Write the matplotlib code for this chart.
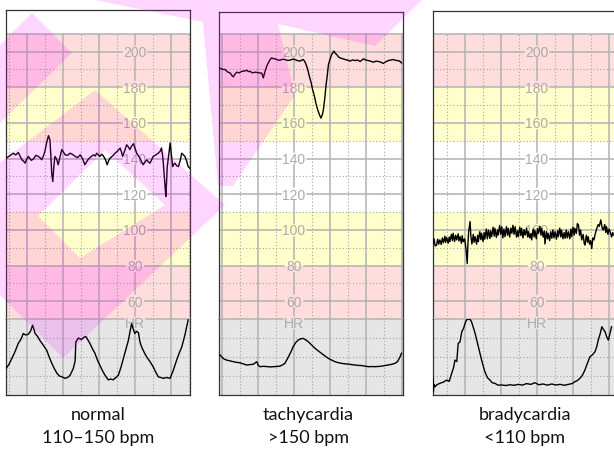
import matplotlib.pyplot as plt
from matplotlib.path import Path
from matplotlib.patches import PathPatch

# ---- data (time in minutes from each panel's left edge) ----
normal_fhr = [
    (0.00, 140.2), (0.10, 141.5), (0.20, 143.0), (0.27, 142.0), (0.34, 143.4), (0.40, 141.0),
    (0.44, 139.3), (0.49, 138.5), (0.53, 137.4), (0.58, 139.8), (0.62, 141.2), (0.70, 139.0),
    (0.76, 139.7), (0.83, 141.8), (0.90, 141.2), (0.95, 140.4), (0.99, 139.3), (1.04, 141.5),
    (1.08, 144.0), (1.13, 149.0), (1.18, 152.8), (1.22, 150.5), (1.25, 140.0), (1.27, 131.8),
    (1.30, 127.1), (1.33, 136.0), (1.36, 141.2), (1.41, 139.5), (1.45, 136.5), (1.50, 141.0),
    (1.55, 145.0), (1.60, 143.5), (1.64, 142.1), (1.71, 141.8), (1.78, 143.0), (1.85, 142.3),
    (1.92, 141.2), (1.99, 140.5), (2.06, 142.1), (2.13, 139.8), (2.19, 136.5), (2.24, 138.2),
    (2.29, 139.7), (2.36, 141.0), (2.43, 142.1), (2.48, 141.4), (2.52, 143.0), (2.57, 142.0),
    (2.61, 141.2), (2.66, 142.4), (2.70, 141.6), (2.76, 139.5), (2.81, 136.5), (2.85, 138.8),
    (2.89, 140.2), (2.96, 141.4), (3.03, 143.0), (3.10, 144.2), (3.17, 145.9), (3.21, 143.5),
    (3.24, 141.2), (3.30, 144.5), (3.35, 147.7), (3.40, 146.5), (3.44, 145.0), (3.49, 147.0),
    (3.54, 148.3), (3.58, 146.0), (3.63, 143.0), (3.68, 141.5), (3.72, 140.2), (3.77, 138.0),
    (3.81, 136.5), (3.86, 138.0), (3.91, 139.3), (3.95, 138.2), (4.00, 137.4), (4.05, 139.5),
    (4.09, 141.2), (4.16, 142.0), (4.23, 143.0), (4.28, 144.0), (4.32, 145.9), (4.36, 140.0),
    (4.39, 131.8), (4.42, 124.0), (4.44, 118.7), (4.46, 127.0), (4.48, 135.5), (4.52, 142.0),
    (4.56, 148.7), (4.60, 141.0), (4.63, 135.5), (4.66, 136.8), (4.69, 137.4), (4.74, 136.0),
    (4.79, 135.5), (4.84, 139.0), (4.88, 143.0), (4.93, 142.0), (4.97, 141.2), (5.02, 138.5),
    (5.06, 135.5), (5.11, 134.5),
]
normal_toco = [
    (0.00, 35), (0.08, 40), (0.16, 48), (0.25, 57), (0.34, 68), (0.41, 73), (0.48, 81),
    (0.55, 79), (0.62, 80), (0.68, 84), (0.74, 92), (0.81, 81), (0.88, 77), (0.94, 72),
    (1.03, 66), (1.13, 59), (1.20, 50), (1.27, 42), (1.34, 35), (1.41, 29), (1.48, 25),
    (1.55, 24), (1.64, 22), (1.71, 23), (1.78, 26), (1.87, 35), (1.92, 45), (1.94, 70),
    (2.01, 75), (2.10, 73), (2.16, 76), (2.22, 77), (2.33, 68), (2.40, 61), (2.47, 55),
    (2.54, 46), (2.61, 39), (2.68, 32), (2.75, 26), (2.84, 20), (2.91, 21), (2.98, 20),
    (3.05, 23), (3.12, 26), (3.19, 36), (3.26, 48), (3.33, 60), (3.40, 72), (3.45, 85),
    (3.49, 94), (3.54, 86), (3.58, 81), (3.63, 84), (3.68, 82), (3.72, 70), (3.77, 63),
    (3.84, 56), (3.91, 50), (4.00, 44), (4.09, 37), (4.16, 30), (4.23, 24), (4.30, 23),
    (4.37, 22), (4.46, 23), (4.56, 22), (4.65, 33), (4.74, 46), (4.81, 55), (4.88, 63),
    (4.97, 79), (5.06, 99),
]

tachy_fhr = [
    (0.00, 190.8), (0.10, 190.0), (0.17, 189.9), (0.24, 188.5), (0.31, 188.0), (0.36, 186.5),
    (0.40, 185.8), (0.45, 187.5), (0.49, 188.4), (0.56, 188.0), (0.63, 188.9), (0.70, 189.0),
    (0.77, 189.5), (0.82, 188.7), (0.86, 188.9), (0.93, 188.0), (1.00, 188.4), (1.07, 188.2),
    (1.14, 188.0), (1.19, 187.8), (1.23, 185.2), (1.28, 188.9), (1.33, 192.0), (1.37, 193.6),
    (1.42, 195.5), (1.46, 196.4), (1.51, 196.0), (1.56, 195.9), (1.62, 195.3), (1.69, 195.1),
    (1.76, 195.6), (1.83, 195.5), (1.90, 195.0), (1.97, 195.1), (2.04, 195.7), (2.11, 195.5),
    (2.18, 194.9), (2.25, 194.6), (2.30, 195.2), (2.34, 195.5), (2.38, 194.5), (2.42, 192.7),
    (2.47, 189.5), (2.51, 186.1), (2.56, 182.5), (2.60, 178.6), (2.65, 175.0), (2.69, 171.1),
    (2.74, 167.5), (2.79, 164.6), (2.83, 162.7), (2.87, 164.5), (2.90, 167.4), (2.94, 174.0),
    (2.97, 180.5), (3.01, 187.0), (3.04, 192.7), (3.09, 196.0), (3.13, 198.3), (3.19, 200.2),
    (3.23, 199.0), (3.27, 198.3), (3.32, 197.0), (3.36, 196.4), (3.43, 196.0), (3.50, 195.5),
    (3.57, 195.2), (3.64, 194.6), (3.71, 195.3), (3.78, 194.9), (3.85, 195.2), (3.92, 194.4),
    (3.96, 195.0), (4.01, 195.9), (4.08, 195.2), (4.15, 194.9), (4.22, 194.5), (4.29, 194.0),
    (4.36, 194.6), (4.43, 194.4), (4.50, 194.0), (4.56, 193.3), (4.63, 194.2), (4.70, 194.9),
    (4.77, 195.2), (4.84, 195.5), (4.91, 195.0), (4.98, 194.9), (5.03, 194.4), (5.07, 193.6),
]
tachy_toco = [
    (0.00, 53.0), (0.03, 52.6), (0.12, 48.0), (0.21, 46.0), (0.30, 45.0), (0.40, 43.9),
    (0.49, 43.0), (0.58, 42.5), (0.67, 41.0), (0.77, 39.5), (0.86, 40.0), (0.95, 40.5),
    (1.05, 43.9), (1.09, 39.0), (1.14, 37.3), (1.23, 37.8), (1.32, 37.5), (1.42, 37.0),
    (1.51, 37.3), (1.60, 37.6), (1.69, 38.0), (1.76, 39.5), (1.83, 41.7), (1.93, 50.4),
    (2.00, 57.0), (2.06, 63.6), (2.13, 69.0), (2.20, 72.4), (2.27, 74.0), (2.34, 74.6),
    (2.41, 72.5), (2.48, 70.2), (2.57, 66.0), (2.67, 61.4), (2.76, 58.0), (2.85, 54.8),
    (2.94, 51.5), (3.04, 48.2), (3.13, 46.0), (3.22, 43.9), (3.32, 42.5), (3.41, 41.7),
    (3.50, 41.0), (3.59, 40.8), (3.69, 40.0), (3.78, 39.5), (3.87, 39.0), (3.96, 38.8),
    (4.06, 38.0), (4.15, 37.3), (4.24, 37.5), (4.33, 37.3), (4.43, 37.6), (4.52, 38.0),
    (4.61, 38.8), (4.70, 39.5), (4.80, 40.5), (4.89, 41.7), (4.96, 44.0), (5.03, 50.4),
    (5.07, 55.0),
]

brady_fhr = [
    (0.00, 92.0), (0.03, 95.0), (0.06, 91.0), (0.10, 91.5), (0.13, 94.8), (0.16, 92.0),
    (0.19, 94.4), (0.23, 91.8), (0.26, 95.5), (0.29, 92.8), (0.33, 96.5), (0.35, 93.0),
    (0.38, 95.8), (0.42, 92.5), (0.45, 96.0), (0.47, 93.4), (0.51, 97.5), (0.54, 94.0),
    (0.56, 98.1), (0.60, 93.5), (0.63, 97.0), (0.66, 94.4), (0.70, 97.8), (0.72, 93.8),
    (0.75, 96.2), (0.79, 92.5), (0.81, 96.8), (0.84, 93.4), (0.88, 95.0), (0.92, 88.7),
    (0.95, 81.2), (0.97, 92.0), (0.99, 99.0), (1.03, 104.7), (1.05, 97.0), (1.08, 92.1),
    (1.12, 97.5), (1.14, 93.0), (1.17, 96.2), (1.21, 92.0), (1.24, 97.0), (1.26, 93.4),
    (1.30, 99.0), (1.33, 94.5), (1.35, 98.1), (1.39, 93.5), (1.42, 98.5), (1.44, 94.8),
    (1.48, 100.5), (1.51, 95.0), (1.54, 99.9), (1.58, 95.2), (1.60, 99.5), (1.63, 96.2),
    (1.67, 101.5), (1.70, 96.5), (1.72, 100.9), (1.76, 95.8), (1.79, 100.0), (1.81, 97.1),
    (1.85, 102.5), (1.88, 97.5), (1.91, 101.8), (1.94, 95.5), (1.97, 100.5), (2.00, 96.2),
    (2.04, 101.8), (2.07, 97.0), (2.09, 100.9), (2.13, 96.0), (2.16, 101.0), (2.19, 98.1),
    (2.22, 102.6), (2.25, 97.5), (2.28, 101.8), (2.32, 96.0), (2.35, 99.5), (2.37, 96.2),
    (2.41, 101.5), (2.44, 96.8), (2.46, 100.9), (2.50, 95.5), (2.53, 100.2), (2.56, 97.1),
    (2.60, 101.0), (2.63, 96.0), (2.65, 99.0), (2.69, 95.5), (2.72, 98.0), (2.74, 94.4),
    (2.78, 100.5), (2.81, 96.0), (2.83, 99.9), (2.87, 95.0), (2.90, 100.8), (2.93, 98.1),
    (2.97, 102.0), (3.00, 97.0), (3.02, 100.9), (3.06, 96.0), (3.09, 99.5), (3.11, 92.1),
    (3.15, 99.0), (3.18, 95.0), (3.20, 98.1), (3.24, 94.0), (3.27, 99.0), (3.30, 95.3),
    (3.33, 100.0), (3.36, 95.5), (3.39, 99.0), (3.43, 94.8), (3.46, 99.5), (3.48, 96.2),
    (3.52, 101.0), (3.55, 96.0), (3.57, 99.9), (3.61, 95.0), (3.64, 98.5), (3.67, 95.3),
    (3.70, 100.0), (3.73, 95.5), (3.76, 99.0), (3.80, 95.0), (3.83, 100.5), (3.85, 96.2),
    (3.89, 101.5), (3.92, 97.0), (3.94, 100.9), (3.98, 98.0), (4.01, 103.5), (4.04, 102.8),
    (4.07, 97.0), (4.10, 100.0), (4.13, 94.4), (4.17, 97.5), (4.20, 92.5), (4.22, 91.5),
    (4.26, 97.0), (4.29, 93.0), (4.31, 96.2), (4.35, 92.0), (4.38, 94.0), (4.41, 89.6),
    (4.44, 95.5), (4.47, 94.4), (4.51, 98.0), (4.55, 100.9), (4.59, 103.0), (4.62, 102.0),
    (4.66, 105.6), (4.70, 101.0), (4.73, 99.9), (4.77, 103.0), (4.80, 98.5), (4.82, 101.8),
    (4.86, 97.5), (4.89, 100.5), (4.92, 99.0), (4.96, 96.0), (4.99, 98.5), (5.01, 97.1),
]
brady_toco = [
    (0.00, 22.0), (0.01, 5.0), (0.03, 14.0), (0.06, 11.0), (0.10, 13.2), (0.17, 15.0),
    (0.24, 16.2), (0.31, 17.5), (0.38, 19.7), (0.45, 18.0), (0.52, 28.5), (0.57, 36.0),
    (0.61, 46.0), (0.66, 44.0), (0.70, 68.0), (0.75, 70.0), (0.80, 83.3), (0.85, 88.0),
    (0.89, 94.3), (0.94, 99.6), (1.03, 99.6), (1.07, 96.5), (1.12, 89.0), (1.17, 81.1),
    (1.26, 63.6), (1.35, 46.0), (1.44, 30.7), (1.51, 23.0), (1.58, 19.7), (1.65, 16.0),
    (1.72, 15.4), (1.80, 13.0), (1.91, 13.2), (2.02, 12.5), (2.14, 13.5), (2.25, 12.8),
    (2.37, 14.0), (2.48, 13.0), (2.60, 15.0), (2.72, 14.0), (2.83, 16.2), (2.94, 13.5),
    (3.06, 14.5), (3.18, 13.0), (3.30, 14.5), (3.41, 13.2), (3.53, 14.0), (3.65, 12.8),
    (3.76, 14.0), (3.86, 15.0), (3.94, 17.5), (4.01, 19.0), (4.08, 21.9), (4.15, 26.0),
    (4.22, 32.9), (4.29, 42.0), (4.36, 50.4), (4.43, 53.0), (4.50, 57.0), (4.55, 64.0),
    (4.59, 72.4), (4.64, 80.0), (4.69, 89.9), (4.74, 86.0), (4.78, 83.3), (4.83, 76.0),
    (4.87, 72.4), (4.92, 82.0), (4.96, 89.9),
]

hr_ticks = [200, 180, 160, 140, 120, 100, 80, 60]
hr_label = "HR"
captions = [("normal", "110–150 bpm"), ("tachycardia", ">150 bpm"), ("bradycardia", "<110 bpm")]

# ---- layout (pixels of the 614x459 picture) ----
W, H = 614, 459
PX_PER_BPM = 1.784
Y200 = 51.5
Y_SPLIT = Y200 + 150 * PX_PER_BPM      # 50 bpm, start of the contraction strip
Y_BOTTOM = 395
PANEL_W = 184
MIN_PX = 36
panel_left = [6, 219, 433]
panel_top = [10, 12, 11]
grid_start = [0.583, 0.083, 0.889]      # first solid minute line
label_col = [3.583, 2.083, 2.889]
caption_x = [98, 308, 525]

PINK, YELLOW, GRAY = '#FFDDDD', '#FFFFCC', '#E6E6E6'
SOLID = dict(color='#B2B2B2', lw=1.1, zorder=2)
DOTTED = dict(color='#A4A4A4', lw=0.8, linestyle=(0, (1, 2)), zorder=2)
LABEL_COLOR = '#ABABAB'

fig = plt.figure(figsize=(W / 100, H / 100), dpi=100)


def fig_rect(x0, y0, x1, y1):
    return [x0 / W, 1 - y1 / H, (x1 - x0) / W, (y1 - y0) / H]


def draw_panel(i, fhr, toco):
    left, top = panel_left[i], panel_top[i]
    tmax = PANEL_W / MIN_PX
    ymax = 200 + (Y200 - top) / PX_PER_BPM
    lx = label_col[i]

    ax = fig.add_axes(fig_rect(left, top, left + PANEL_W, Y_SPLIT))
    axt = fig.add_axes(fig_rect(left, Y_SPLIT, left + PANEL_W, Y_BOTTOM))
    ax.set_xlim(0, tmax)
    ax.set_ylim(50, ymax)
    axt.set_xlim(0, tmax)
    axt.set_ylim(0, 100)
    for a in (ax, axt):
        a.set_xticks([])
        a.set_yticks([])
        for s in a.spines.values():
            s.set_color('#333333')
            s.set_linewidth(0.9)
    ax.spines['bottom'].set_visible(False)
    axt.spines['top'].set_visible(False)
    axt.set_facecolor(GRAY)

    for lo, hi, c in [(180, 210, PINK), (150, 180, YELLOW), (80, 110, YELLOW), (50, 80, PINK)]:
        ax.axhspan(lo, hi, color=c, lw=0, zorder=0)

    solids = [grid_start[i] + k for k in range(-1, 7) if 0 < grid_start[i] + k < tmax]
    dots = [grid_start[i] + k + 0.5 for k in range(-2, 7) if 0 < grid_start[i] + k + 0.5 < tmax]

    # vertical grid
    for x in solids:
        if abs(x - lx) < 1e-6:
            continue
        ax.plot([x, x], [50, 210], **SOLID)
        axt.plot([x, x], [0, 100], **SOLID)
    for x in dots:
        ax.plot([x, x], [50, 210], **DOTTED)
        axt.plot([x, x], [0, 100], **DOTTED)

    # horizontal grid
    ax.plot([0, tmax], [210, 210], **SOLID)
    for y in range(70, 200, 20):
        ax.plot([0, tmax], [y, y], **DOTTED)
    for y in (25, 50, 75):
        axt.plot([0, tmax], [y, y], **DOTTED)
    for v in hr_ticks:
        hw = 0.37 if v >= 100 else 0.27
        ax.plot([0, lx - hw], [v, v], **SOLID)
        ax.plot([lx + hw, tmax], [v, v], **SOLID)
        ax.text(lx, v, str(v), ha='center', va='center_baseline', color=LABEL_COLOR,
                fontsize=10, family='Liberation Sans', zorder=3)
    axt.plot([0, lx - 0.3], [100, 100], clip_on=False, **SOLID)
    axt.plot([lx + 0.3, tmax], [100, 100], clip_on=False, **SOLID)
    axt.text(lx, 95, hr_label, ha='center', va='center_baseline', color=LABEL_COLOR,
             fontsize=10, family='Liberation Sans', zorder=3)

    # label column, broken around the labels
    gap = 3.9
    stops = [210] + hr_ticks
    for a_, b_ in zip(stops[:-1], stops[1:]):
        top_y = a_ - gap if a_ != 210 else 210
        ax.plot([lx, lx], [top_y, b_ + gap], **SOLID)
    ax.plot([lx, lx], [60 - gap, 51.5], **SOLID)
    axt.plot([lx, lx], [0, 86], **SOLID)

    t, v = zip(*fhr)
    ax.plot(t, v, color='black', lw=1.0, zorder=5)
    t, v = zip(*toco)
    axt.plot(t, v, color='black', lw=1.0, zorder=5)

    fig.text(caption_x[i] / W, 1 - 420 / H, captions[i][0], ha='center', va='baseline',
             fontsize=13, family='Lato', color='#111111')
    fig.text(caption_x[i] / W, 1 - 443 / H, captions[i][1], ha='center', va='baseline',
             fontsize=13, family='Lato', color='#111111')


for i, (fhr, toco) in enumerate([(normal_fhr, normal_toco), (tachy_fhr, tachy_toco),
                                 (brady_fhr, brady_toco)]):
    draw_panel(i, fhr, toco)

# translucent magenta watermark shapes on top
ov = fig.add_axes([0, 0, 1, 1], zorder=10)
ov.set_xlim(0, W)
ov.set_ylim(H, 0)
ov.axis('off')
shapes = [
    [(95, 0), (422, 0), (375, 46), (278, 24), (295, 95), (233, 186), (218, 186), (203, 22)],
    [(32, 13), (72, 53), (-5, 128), (-5, 50)],
    [(95, 90), (225, 205), (63, 358), (-75, 220)],
    [(38, 216), (80, 258), (165, 205), (105, 150)],   # hole (reverse winding)
]
paths = [Path(s + [s[0]], closed=True) for s in shapes]
ov.add_patch(PathPatch(Path.make_compound_path(*paths), facecolor=(1, 0, 1, 0.16),
                       edgecolor='none'))

fig.savefig('out.png', dpi=100)
